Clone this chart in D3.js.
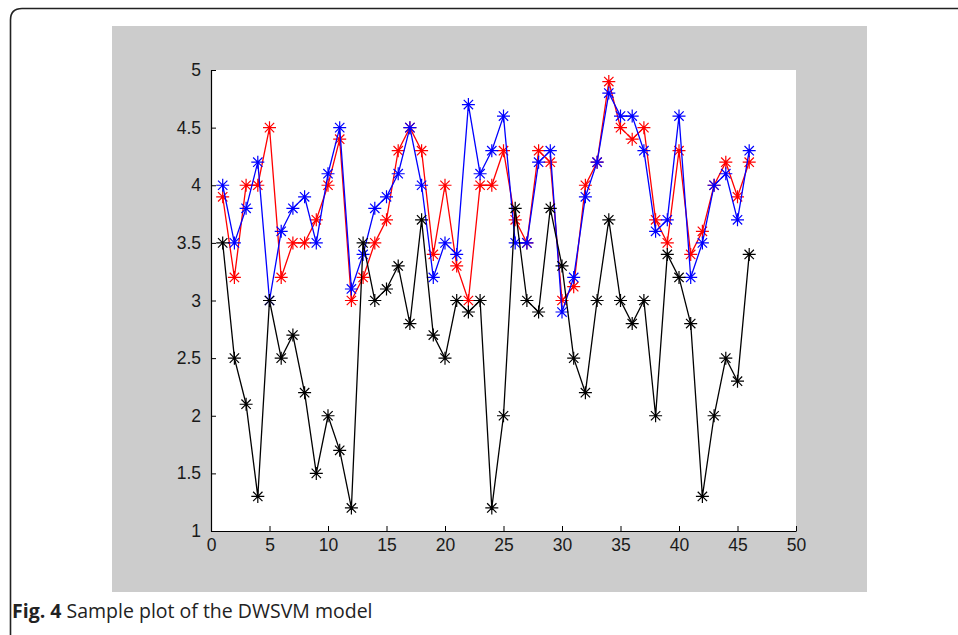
<!DOCTYPE html>
<html><head><meta charset="utf-8">
<script src="https://cdn.jsdelivr.net/npm/d3@7"></script>
<style>body{margin:0;background:#fff;}svg{display:block;}</style>
</head><body>
<script>
const xValues = d3.range(1, 47);
const redSeries = [3.9,3.2,4.0,4.0,4.5,3.2,3.5,3.5,3.7,4.0,4.4,3.0,3.2,3.5,3.7,4.3,4.5,4.3,3.4,4.0,3.3,3.0,4.0,4.0,4.3,3.7,3.5,4.3,4.2,3.0,3.12,4.0,4.2,4.9,4.5,4.4,4.5,3.7,3.5,4.3,3.4,3.6,4.0,4.2,3.9,4.2];
const blueSeries = [4.0,3.5,3.8,4.2,3.0,3.6,3.8,3.9,3.5,4.1,4.5,3.1,3.4,3.8,3.9,4.1,4.5,4.0,3.2,3.5,3.4,4.7,4.1,4.3,4.6,3.5,3.5,4.2,4.3,2.9,3.2,3.9,4.2,4.8,4.6,4.6,4.3,3.6,3.7,4.6,3.2,3.5,4.0,4.1,3.7,4.3];
const blackSeries = [3.5,2.5,2.1,1.3,3.0,2.5,2.7,2.2,1.5,2.0,1.7,1.2,3.5,3.0,3.1,3.3,2.8,3.7,2.7,2.5,3.0,2.9,3.0,1.2,2.0,3.8,3.0,2.9,3.8,3.3,2.5,2.2,3.0,3.7,3.0,2.8,3.0,2.0,3.4,3.2,2.8,1.3,2.0,2.5,2.3,3.4];
const xTicks = [0,5,10,15,20,25,30,35,40,45,50];
const yTicks = [1,1.5,2,2.5,3,3.5,4,4.5,5];
const seriesList = [
  {name:"red", values: redSeries, color:"#ff0000"},
  {name:"blue", values: blueSeries, color:"#0000ff"},
  {name:"black", values: blackSeries, color:"#000000"}
];
const caption = {bold:"Fig. 4", rest:" Sample plot of the DWSVM model"};

const W = 958, H = 635;
const svg = d3.select("body").append("svg").attr("width", W).attr("height", H);

// outer frame (top + left, rounded corner)
svg.append("path")
  .attr("d", "M10.5,635 L10.5,20 Q10.5,8.5 22,8.5 L958,8.5")
  .attr("fill","none").attr("stroke","#222").attr("stroke-width",1.6);

// gray figure background
svg.append("rect").attr("x",112).attr("y",26).attr("width",755).attr("height",566).attr("fill","#cccccc");

const plot = {left:211, right:796, top:70, bottom:531};
svg.append("rect").attr("x",plot.left).attr("y",plot.top)
  .attr("width",plot.right-plot.left).attr("height",plot.bottom-plot.top).attr("fill","#fff");

const x = d3.scaleLinear().domain([0,50]).range([plot.left, plot.right]);
const y = d3.scaleLinear().domain([1,5]).range([plot.bottom, plot.top]);

const xAxis = svg.append("g").attr("transform",`translate(0,${plot.bottom})`)
  .call(d3.axisBottom(x).tickValues(xTicks).tickFormat(d3.format("d")).tickSizeInner(-5).tickSizeOuter(0).tickPadding(8));
const yAxis = svg.append("g").attr("transform",`translate(${plot.left},0)`)
  .call(d3.axisLeft(y).tickValues(yTicks).tickFormat(d => String(d)).tickSizeInner(-5).tickSizeOuter(0).tickPadding(10));
[xAxis,yAxis].forEach(a => {
  a.selectAll("path.domain").attr("stroke","#000").attr("stroke-width",1.2);
  a.selectAll(".tick line").attr("stroke","#000").attr("stroke-width",1);
  a.selectAll("text").attr("font-family","Liberation Sans, Arial, sans-serif").attr("font-size",17.5).attr("fill","#1a1a1a");
});

const line = d3.line().x((d,i)=>x(xValues[i])).y(d=>y(d));
const starPath = (r) => {
  const a = r*0.72;
  return `M${-r},0L${r},0M0,${-r}L0,${r}M${-a},${-a}L${a},${a}M${-a},${a}L${a},${-a}`;
};
seriesList.forEach(s => {
  const g = svg.append("g");
  g.append("path").datum(s.values).attr("d", line)
    .attr("fill","none").attr("stroke", s.color).attr("stroke-width",1.3);
  g.selectAll("path.m").data(s.values).join("path").attr("class","m")
    .attr("transform",(d,i)=>`translate(${x(xValues[i])},${y(d)})`)
    .attr("d", starPath(6.5)).attr("fill","none").attr("stroke", s.color).attr("stroke-width",1.2);
});

const cap = svg.append("text").attr("x",12).attr("y",618)
  .attr("font-family","Open Sans, sans-serif").attr("font-size",19.5).attr("fill","#222");
cap.append("tspan").attr("font-weight","bold").text(caption.bold);
cap.append("tspan").text(caption.rest);
</script>
</body></html>
